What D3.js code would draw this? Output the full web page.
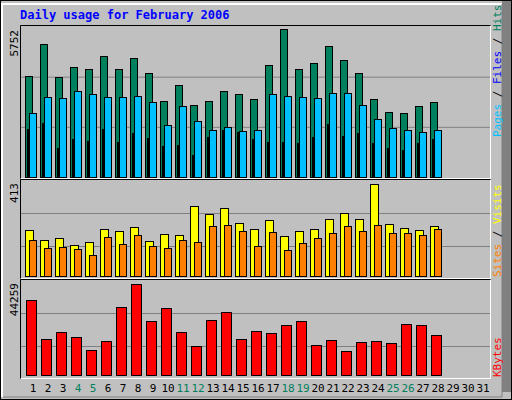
<!DOCTYPE html>
<html><head><meta charset="utf-8">
<script src="https://cdn.jsdelivr.net/npm/d3@7"></script>
<style>body{margin:0;background:#fff}text{font-family:"DejaVu Sans Mono",monospace}</style>
</head><body>
<div id="chart"></div>
<script>
var days = d3.range(1, 32);
var weekends = [4, 5, 11, 12, 18, 19, 25, 26];
var hits = [3862,5100,3823,4207,4130,4629,4130,4552,3977,2903,3517,2750,2903,3287,3171,2980,4284,5664,4130,4360,5012,4475,3977,2980,2481,2443,2711,2865];
var files = [2443,3056,3018,3287,3171,3056,3056,3095,2865,1983,2711,2136,1791,1906,1753,1791,3171,3095,3056,3018,3210,3210,2750,2213,1868,1791,1714,1791];
var pages = [1829,2059,1101,1446,1369,1829,1331,1676,1484,1177,1216,832,1522,1791,1714,1446,1331,1331,1292,1522,2021,1561,1676,1292,1101,1024,1292,1446];
var visits = [198,155,163,133,146,202,194,211,151,181,176,301,267,292,228,202,241,172,194,202,245,271,245,396,224,206,198,215];
var sites = [155,120,125,116,90,168,138,176,129,120,155,146,215,219,194,129,189,112,142,163,185,215,194,219,185,185,176,202];
var kbytes = [34950,16776,20040,17710,11650,15844,31688,42406,25164,31222,20040,13514,25630,29358,16776,20504,19572,23300,25164,13980,16310,11184,15378,15844,14912,23766,23300,18640];
var maxHits = 5752, maxVisits = 413, maxKB = 44259;

var W = 512, H = 400;
var svg = d3.select('#chart').append('svg').attr('width', W).attr('height', H);

/* frame */
svg.append('rect').attr('width', W).attr('height', H).attr('fill', '#c0c0c0');
svg.append('rect').attr('x', 502).attr('y', 0).attr('width', 10).attr('height', H).attr('fill', '#808080');
svg.append('rect').attr('x', 0).attr('y', 390 + 2).attr('width', W).attr('height', 8).attr('fill', '#c0c0c0');
svg.append('rect').attr('x', 0.5).attr('y', 0.5).attr('width', W - 1).attr('height', H - 1)
  .attr('fill', 'none').attr('stroke', '#000');
svg.append('path').attr('d', 'M2,397V4H502').attr('fill', 'none').attr('stroke', '#fff').attr('stroke-width', 2);
svg.append('path').attr('d', 'M3,397H502V4').attr('fill', 'none').attr('stroke', '#808080').attr('stroke-width', 1);

svg.append('text').text('Daily usage for February 2006')
  .attr('x', 20).attr('y', 19).attr('fill', '#0000ff').attr('font-weight', 'bold').attr('font-size', 12);

var x = d3.scaleBand().domain(days).range([25, 25 + 15 * 31]);

function panel(y0, y1) {
  svg.append('path').attr('d', 'M20.5,' + (y1 + 0.5) + 'V' + (y0 + 0.5) + 'H490.5')
    .attr('fill', 'none').attr('stroke', '#000');
  svg.append('path').attr('d', 'M21,' + (y1 + 0.5) + 'H490.5V' + (y0 + 1))
    .attr('fill', 'none').attr('stroke', '#fff');
}
function grid(y, fr) {
  fr.forEach(function (f) {
    svg.append('line').attr('x1', 21).attr('x2', 490).attr('y1', y(f)).attr('y2', y(f))
      .attr('stroke', '#808080');
  });
}
function bars(data, y, dx, w, color) {
  svg.append('g').selectAll('rect').data(data).enter().append('rect')
    .attr('x', function (d, i) { return x(days[i]) + dx + 0.5; })
    .attr('y', function (d) { return Math.round(y(d)) + 0.5; })
    .attr('width', w)
    .attr('height', function (d) { return y.range()[0] - Math.round(y(d)); })
    .attr('fill', color).attr('stroke', '#000');
}
function ylabel(txt, yTop) {
  svg.append('text').text(txt).attr('transform', 'translate(18,' + yTop + ') rotate(-90)')
    .attr('text-anchor', 'end').attr('font-size', 11).attr('fill', '#000');
}
function legend(parts, yBot) {
  var t = svg.append('text').attr('transform', 'translate(501,' + yBot + ') rotate(-90)')
    .attr('font-size', 11);
  parts.forEach(function (p) { t.append('tspan').text(p[0]).attr('fill', p[1]); });
}

/* Hits / Files / Pages */
panel(25, 178);
var y1 = d3.scaleLinear().domain([0, maxHits]).range([177, 27]);
grid(d3.scaleLinear().domain([0, 1]).range([177.5, 27]), [1 / 3, 2 / 3]);
bars(hits, y1, 0, 7, '#00805c');
bars(files, y1, 4, 7, '#00c0ff');
bars(pages, y1, 2, 1, '#0000ff');
ylabel('5752', 30);
legend([['Pages', '#00c0ff'], [' / ', '#000'], ['Files', '#0000ff'], [' / ', '#000'], ['Hits', '#00805c']], 137);

/* Visits / Sites */
panel(179, 278);
var y2 = d3.scaleLinear().domain([0, maxVisits]).range([276, 180]);
grid(d3.scaleLinear().domain([0, 1]).range([279.5, 180.5]), [1 / 3, 2 / 3]);
bars(visits, y2, 0, 8, '#ffff00');
bars(sites, y2, 4, 7, '#ff8000');
ylabel('413', 183);
legend([['Sites', '#ff8000'], [' / ', '#000'], ['Visits', '#ffff00']], 277);

/* KBytes */
panel(279, 378);
var y3 = d3.scaleLinear().domain([0, maxKB]).range([375, 280]);
grid(d3.scaleLinear().domain([0, 1]).range([379.5, 280.5]), [1 / 3, 2 / 3]);
bars(kbytes, y3, 1, 10, '#ff0000');
ylabel('44259', 283);
legend([['KBytes', '#ff0000']], 377);

/* day labels */
svg.append('g').selectAll('text').data(days).enter().append('text')
  .text(function (d) { return d; })
  .attr('x', function (d) { return x(d) + 8; })
  .attr('y', 392).attr('text-anchor', 'middle').attr('font-size', 11)
  .attr('fill', function (d) { return weekends.indexOf(d) >= 0 ? '#00805c' : '#000'; });
</script>
</body></html>
